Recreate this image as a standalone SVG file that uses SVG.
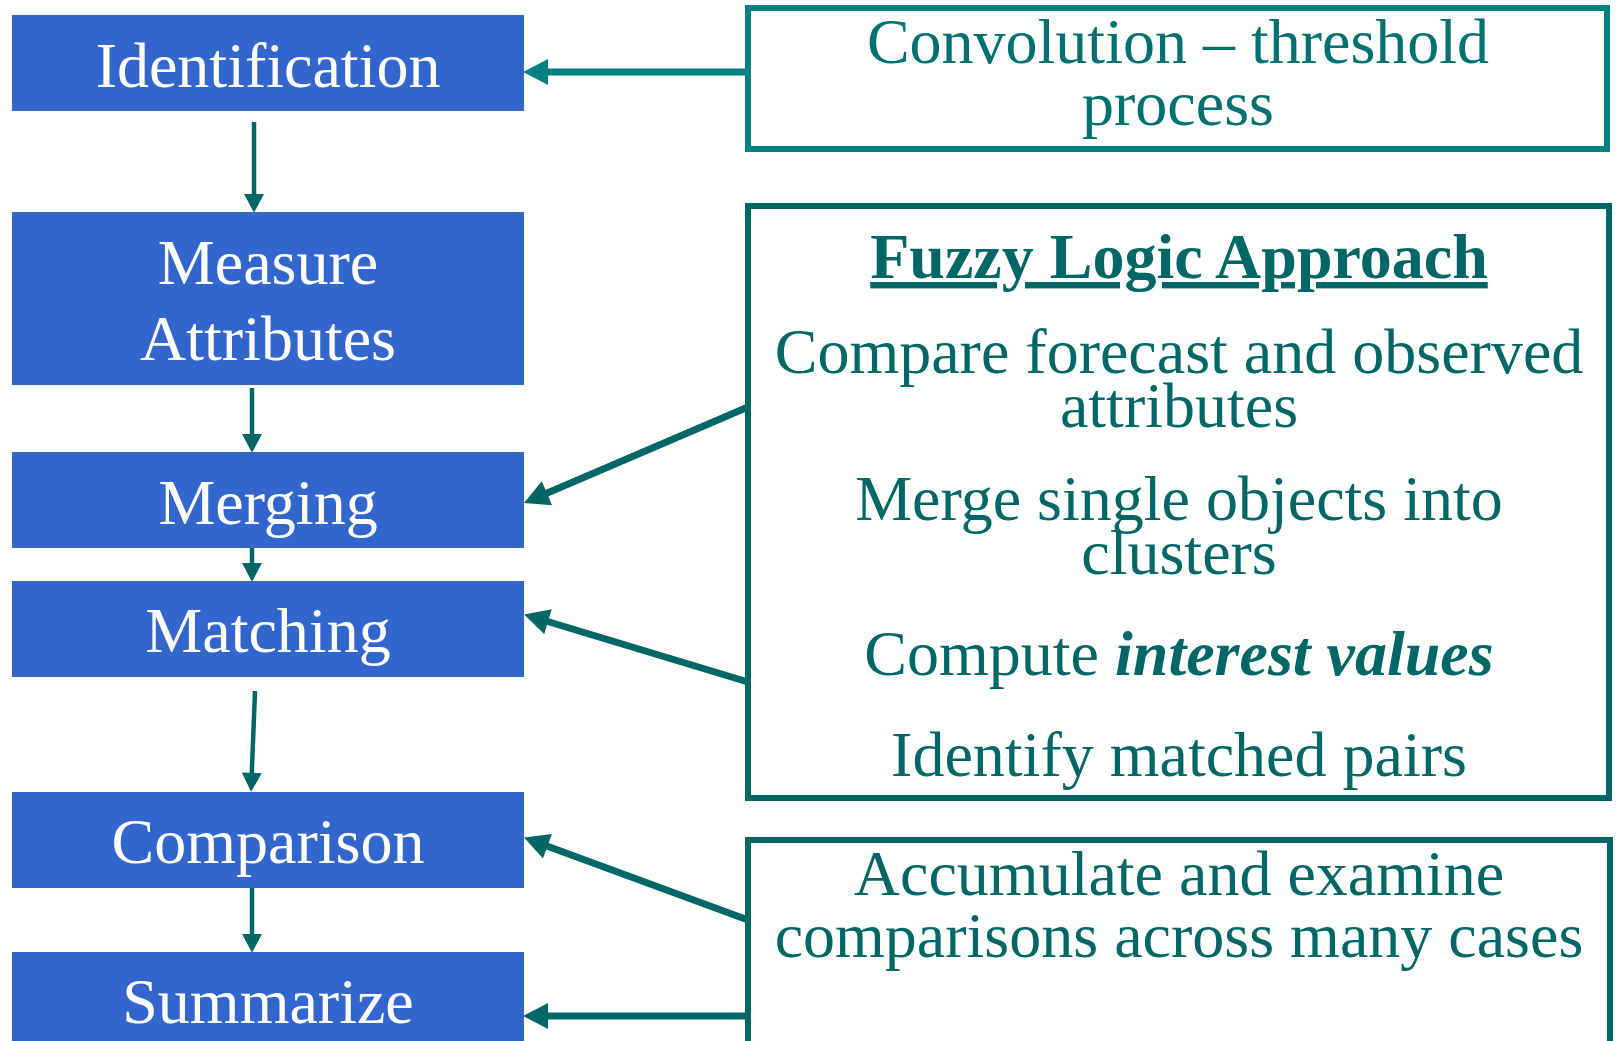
<svg xmlns="http://www.w3.org/2000/svg" width="1616" height="1041" viewBox="0 0 1616 1041">
<style>
.step{fill:#3366CC}
.steptxt{font-family:"Liberation Serif","Times New Roman",serif;font-size:64px;fill:#FFFFFF;text-anchor:middle}
.note{fill:#FFFFFF;stroke:#006666;stroke-width:6}
.note1{fill:#FFFFFF;stroke:#008080;stroke-width:6}
.notetxt{font-family:"Liberation Serif","Times New Roman",serif;font-size:64px;fill:#006666;text-anchor:middle}
.thin{stroke:#006666;stroke-width:4.5;fill:none}
.thick{stroke:#006666;stroke-width:7;fill:none}
.thick1{stroke:#008080;stroke-width:7;fill:none}
</style>
<defs>
<marker id="hs" markerUnits="userSpaceOnUse" markerWidth="20" markerHeight="20" viewBox="0 0 18 19" refX="2" refY="9.5" orient="auto">
<path d="M0,0 L18,9.5 L0,19 z" fill="#006666"/>
</marker>
<marker id="hl" markerUnits="userSpaceOnUse" markerWidth="26" markerHeight="26" viewBox="0 0 24 25" refX="2" refY="12.5" orient="auto">
<path d="M0,0 L24,12.5 L0,25 z" fill="#006666"/>
</marker>
<marker id="hl1" markerUnits="userSpaceOnUse" markerWidth="26" markerHeight="26" viewBox="0 0 24 25" refX="2" refY="12.5" orient="auto">
<path d="M0,0 L24,12.5 L0,25 z" fill="#008080"/>
</marker>
</defs>

<g id="connectors">
<line class="thin" x1="254" y1="122" x2="254" y2="196" marker-end="url(#hs)"/>
<line class="thin" x1="252" y1="388" x2="252" y2="436" marker-end="url(#hs)"/>
<line class="thin" x1="252" y1="548" x2="252" y2="565" marker-end="url(#hs)"/>
<line class="thin" x1="255" y1="691" x2="251.7" y2="775" marker-end="url(#hs)"/>
<line class="thin" x1="252" y1="888" x2="252" y2="936" marker-end="url(#hs)"/>
<line class="thick1" x1="750" y1="72" x2="546" y2="72" marker-end="url(#hl1)"/>
<line class="thick" x1="748" y1="407" x2="545" y2="494" marker-end="url(#hl)"/>
<line class="thick" x1="748" y1="682" x2="546" y2="621" marker-end="url(#hl)"/>
<line class="thick" x1="748" y1="920" x2="545.5" y2="845.5" marker-end="url(#hl)"/>
<line class="thick" x1="748" y1="1016" x2="546" y2="1016" marker-end="url(#hl)"/>
</g>

<g id="identification">
<rect class="step" x="12" y="15" width="512" height="96"/>
<text class="steptxt" x="268" y="87">Identification</text>
</g>
<g id="measure-attributes">
<rect class="step" x="12" y="212" width="512" height="173"/>
<text class="steptxt" x="268" y="284">Measure</text>
<text class="steptxt" x="268" y="360">Attributes</text>
</g>
<g id="merging">
<rect class="step" x="12" y="452" width="512" height="96"/>
<text class="steptxt" x="268" y="524">Merging</text>
</g>
<g id="matching">
<rect class="step" x="12" y="581" width="512" height="96"/>
<text class="steptxt" x="268" y="652">Matching</text>
</g>
<g id="comparison">
<rect class="step" x="12" y="792" width="512" height="96"/>
<text class="steptxt" x="268" y="863">Comparison</text>
</g>
<g id="summarize">
<rect class="step" x="12" y="952" width="512" height="100"/>
<text class="steptxt" x="268" y="1023">Summarize</text>
</g>

<g id="convolution">
<rect class="note1" x="748" y="8" width="859" height="141"/>
<text class="notetxt" x="1178" y="63" style="fill:#007070">Convolution – threshold</text>
<text class="notetxt" x="1178" y="125" style="fill:#007070">process</text>
</g>
<g id="fuzzy-logic">
<rect class="note" x="748" y="206" width="861" height="592"/>
<text class="notetxt" x="1179" y="278" font-weight="bold" text-decoration="underline">Fuzzy Logic Approach</text>
<text class="notetxt" x="1179" y="373">Compare forecast and observed</text>
<text class="notetxt" x="1179" y="427">attributes</text>
<text class="notetxt" x="1179" y="520">Merge single objects into</text>
<text class="notetxt" x="1179" y="574">clusters</text>
<text class="notetxt" x="1179" y="675">Compute <tspan font-weight="bold" font-style="italic">interest values</tspan></text>
<text class="notetxt" x="1179" y="776">Identify matched pairs</text>
</g>
<g id="accumulate">
<rect class="note" x="748" y="840" width="862" height="220"/>
<text class="notetxt" x="1179" y="895">Accumulate and examine</text>
<text class="notetxt" x="1179" y="957">comparisons across many cases</text>
</g>
</svg>
